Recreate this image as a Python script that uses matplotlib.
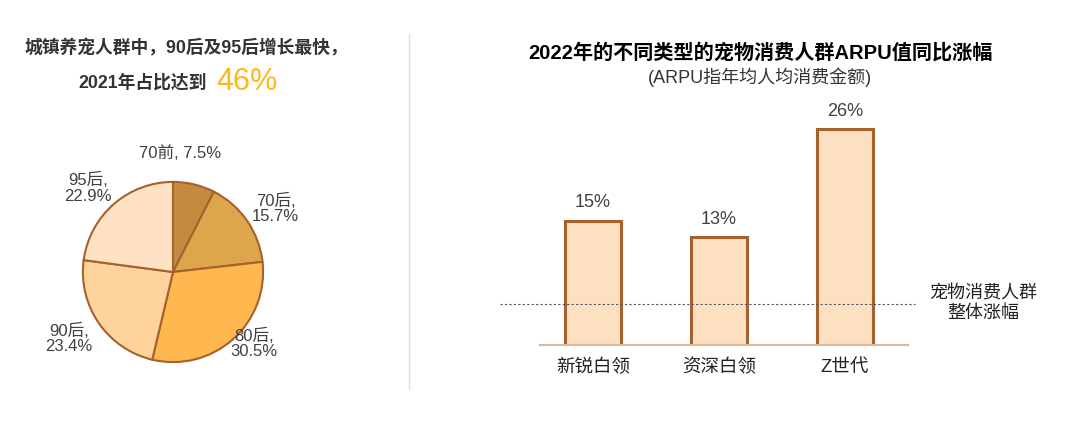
import numpy as np
import matplotlib
matplotlib.use("Agg")
import matplotlib.pyplot as plt

plt.rcParams['font.family'] = ['Liberation Sans', 'Noto Sans CJK SC', 'DejaVu Sans']

# left: age groups of urban pet owners, 2021
age_groups = ['70前', '70后', '80后', '90后', '95后']
age_shares = [7.5, 15.7, 30.5, 23.4, 22.9]
pie_colors = ['#C48B3F', '#DEA64C', '#FFB84F', '#FFD39E', '#FFE2C4']

# right: ARPU growth 2022 by consumer type
groups = ['新锐白领', '资深白领', 'Z世代']
arpu_growth = [15, 13, 26]
overall_growth = 5

edge = '#A5622C'
txt = '#404040'

fig = plt.figure(figsize=(10.8, 4.24), dpi=100)

# pie
ax1 = fig.add_axes([(173 - 91) / 1080, (424 - 272 - 91) / 424, 182 / 1080, 182 / 424])
wedges, _ = ax1.pie(age_shares, colors=pie_colors, startangle=90, counterclock=False,
                    wedgeprops=dict(edgecolor=edge, linewidth=1.5))
ax1.set_aspect('equal')
ax1.set_xlim(-1.01, 1.01)
ax1.set_ylim(-1.01, 1.01)
# label placement tweaks (radius, angle nudge in degrees)
label_r = [1.32, 1.34, 1.2, 1.37, 1.33]
label_nudge = [10, -3, 7, -2, 4]
for w, name, v, r, dn in zip(wedges, age_groups, age_shares, label_r, label_nudge):
    ang = np.deg2rad((w.theta1 + w.theta2) / 2 + dn)
    s = f'{name}, {v}%' if v < 10 else f'{name},\n{v}%'
    ax1.text(r * np.cos(ang), r * np.sin(ang), s, ha='center', va='center',
             fontsize=12, color=txt, linespacing=1.05)

fig.text(186 / 1080, 1 - 48 / 424, '城镇养宠人群中，90后及95后增长最快，', ha='center', va='center',
         fontsize=12.8, fontweight='bold', color='#333333')
fig.text(207 / 1080, 1 - 83 / 424, '2021年占比达到', ha='right', va='center',
         fontsize=12.8, fontweight='bold', color='#333333')
fig.text(216 / 1080, 1 - 82 / 424, '46%', ha='left', va='center',
         fontsize=22, color='#FFB81C')

# divider
fig.add_artist(plt.Line2D([409 / 1080, 409 / 1080], [1 - 388 / 424, 1 - 35 / 424],
                          color='#E0E0E0', linewidth=1))

# bars
ax2 = fig.add_axes([540 / 1080, (424 - 345) / 424, 368 / 1080, 249 / 424])
x = np.arange(len(groups))
bars = ax2.bar(x, arpu_growth, width=0.45, color='#FDE0C2', edgecolor=edge, linewidth=2.2)
ax2.set_xlim(-0.42, 2.5)
ax2.set_ylim(0, 30)
for b, v in zip(bars, arpu_growth):
    ax2.text(b.get_x() + b.get_width() / 2, v + 1.1, f'{v}%', ha='center', va='bottom',
             fontsize=13, color=txt)
ax2.axhline(overall_growth, xmin=-0.11, xmax=1.02, color='#555555', linestyle=(0, (2, 2)),
            linewidth=0.8, clip_on=False)
ax2.text(3.1, overall_growth, '宠物消费人群\n整体涨幅', ha='center', va='center',
         fontsize=13, color='#222222', linespacing=1.15)
for s in ['top', 'right', 'left']:
    ax2.spines[s].set_visible(False)
ax2.spines['bottom'].set_color('#D9B89A')
ax2.spines['bottom'].set_linewidth(1.5)
ax2.set_yticks([])
ax2.set_xticks(x)
ax2.set_xticklabels(groups, fontsize=13.3, color='#222222')
ax2.tick_params(axis='x', length=0, pad=10)

fig.text(760 / 1080, 1 - 53 / 424, '2022年的不同类型的宠物消费人群ARPU值同比涨幅', ha='center', va='center',
         fontsize=14.5, fontweight='bold', color='black')
fig.text(760 / 1080, 1 - 77 / 424, '(ARPU指年均人均消费金额)', ha='center', va='center',
         fontsize=13, color='#333333')

fig.savefig('out.png', dpi=100)
